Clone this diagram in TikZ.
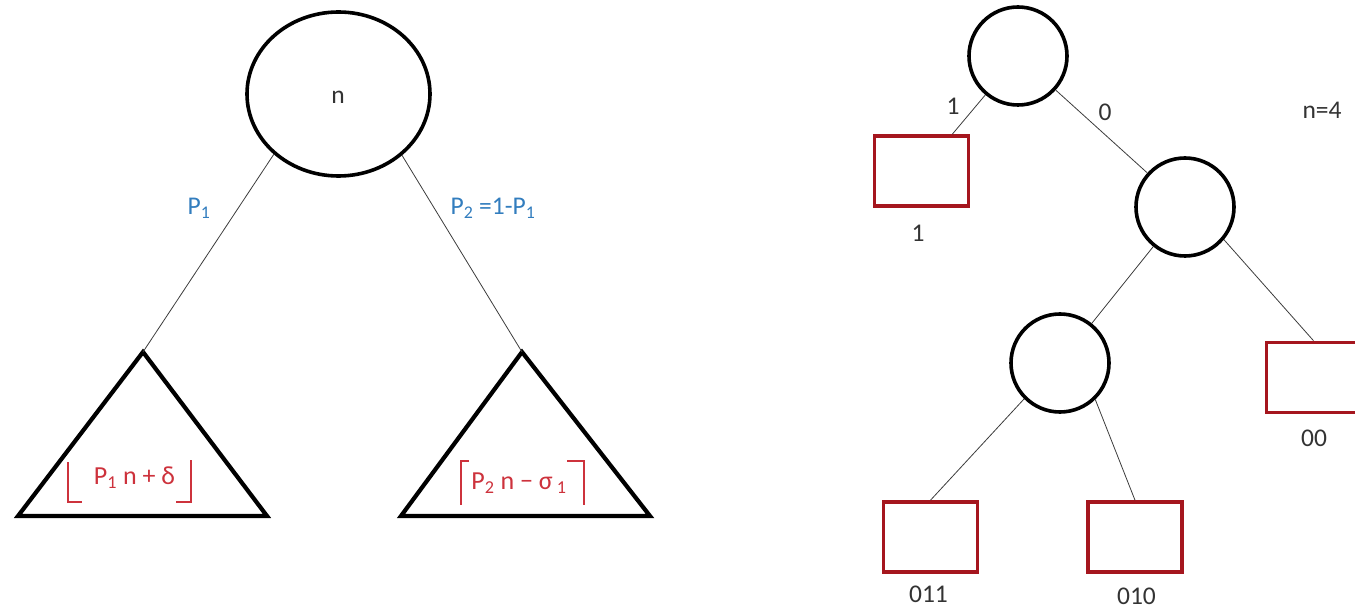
\documentclass[tikz,border=0pt]{standalone}
\usepackage{fontspec}
\setmainfont{Carlito}
\usetikzlibrary{shapes.geometric,calc}
\definecolor{boxred}{RGB}{165,22,30}
\definecolor{txtred}{RGB}{205,50,60}
\definecolor{lblblue}{RGB}{50,125,190}
\definecolor{edgegray}{RGB}{60,60,60}
\begin{document}
\begin{tikzpicture}[x=1pt,y=-1pt,
  circ/.style={circle,draw=black,line width=3.6pt,minimum size=98pt,inner sep=0pt},
  bigcirc/.style={ellipse,draw=black,line width=3.6pt,minimum width=183pt,minimum height=164pt,inner sep=0pt},
  leaf/.style={rectangle,draw=boxred,line width=3.6pt,minimum width=94pt,minimum height=70pt,inner sep=0pt},
  edge/.style={draw=edgegray,line width=0.8pt},
  tri/.style={draw=black,line width=4.2pt,line join=miter},
  lbl/.style={font=\fontsize{25.5}{30}\selectfont,text=black!80,inner sep=0pt},
  blbl/.style={font=\fontsize{25.5}{30}\selectfont,text=lblblue,inner sep=0pt},
  rlbl/.style={font=\fontsize{26}{30}\selectfont,text=txtred,inner sep=0pt},
  brk/.style={draw=txtred,line width=1.2pt}]
\useasboundingbox (0,0) rectangle (1355,609);
% ---------- left diagram ----------
\node[bigcirc] (big) at (338.5,94) {};
\node[lbl] (nlab) at (338,97) {n};
\coordinate (tl) at (143,352);
\coordinate (tr) at (522,352);
\draw[tri] (tl) -- (18,516) -- (267,516) -- cycle;
\draw[tri] (tr) -- (401,516) -- (650,516) -- cycle;
\draw[edge] (big.-137) -- (tl);
\draw[edge] (big.-44) -- (tr);
\node[blbl] (p1) at (199,208) {P\textsubscript{1}};
\node[blbl] (p2) at (493,208) {P\textsubscript{2} =1-P\textsubscript{1}};
\node[rlbl] (fl) at (134.5,478) {P\textsubscript{1} n + δ};
\draw[brk] (68,462) -- (68,502) -- (82,502);
\draw[brk] (191,460) -- (191,502) -- (176,502);
\node[rlbl] (ce) at (519,483) {P\textsubscript{2} n − σ\textsubscript{ 1}};
\draw[brk] (469,461) -- (461,461) -- (461,505);
\draw[brk] (567,461) -- (584,461) -- (584,505);
% ---------- right diagram ----------
\node[circ] (root) at (1018,56) {};
\node[circ] (c2) at (1185,207) {};
\node[circ] (c3) at (1060,363) {};
\node[leaf] (b1) at (921.5,171) {};
\node[leaf] (b00) at (1313.5,377.5) {};
\node[leaf] (b011) at (930.5,537) {};
\node[leaf] (b010) at (1135,537) {};
\draw[edge] (root) -- (b1);
\draw[edge] (root) -- (c2);
\draw[edge] (c2) -- (c3);
\draw[edge] (c2.-40) -- (b00.north);
\draw[edge] (c3.-135) -- (b011.north);
\draw[edge] (c3.-46) -- (b010.north);
\node[lbl] (e1) at (953,106) {1};
\node[lbl] (e0) at (1105,112) {0};
\node[lbl] (l1) at (918,233) {1};
\node[lbl] (n4) at (1322,110) {n=4};
\node[lbl] (l00) at (1314,438) {00};
\node[lbl] (l011) at (928.5,594) {011};
\node[lbl] (l010) at (1136.5,596) {010};
\end{tikzpicture}
\end{document}
